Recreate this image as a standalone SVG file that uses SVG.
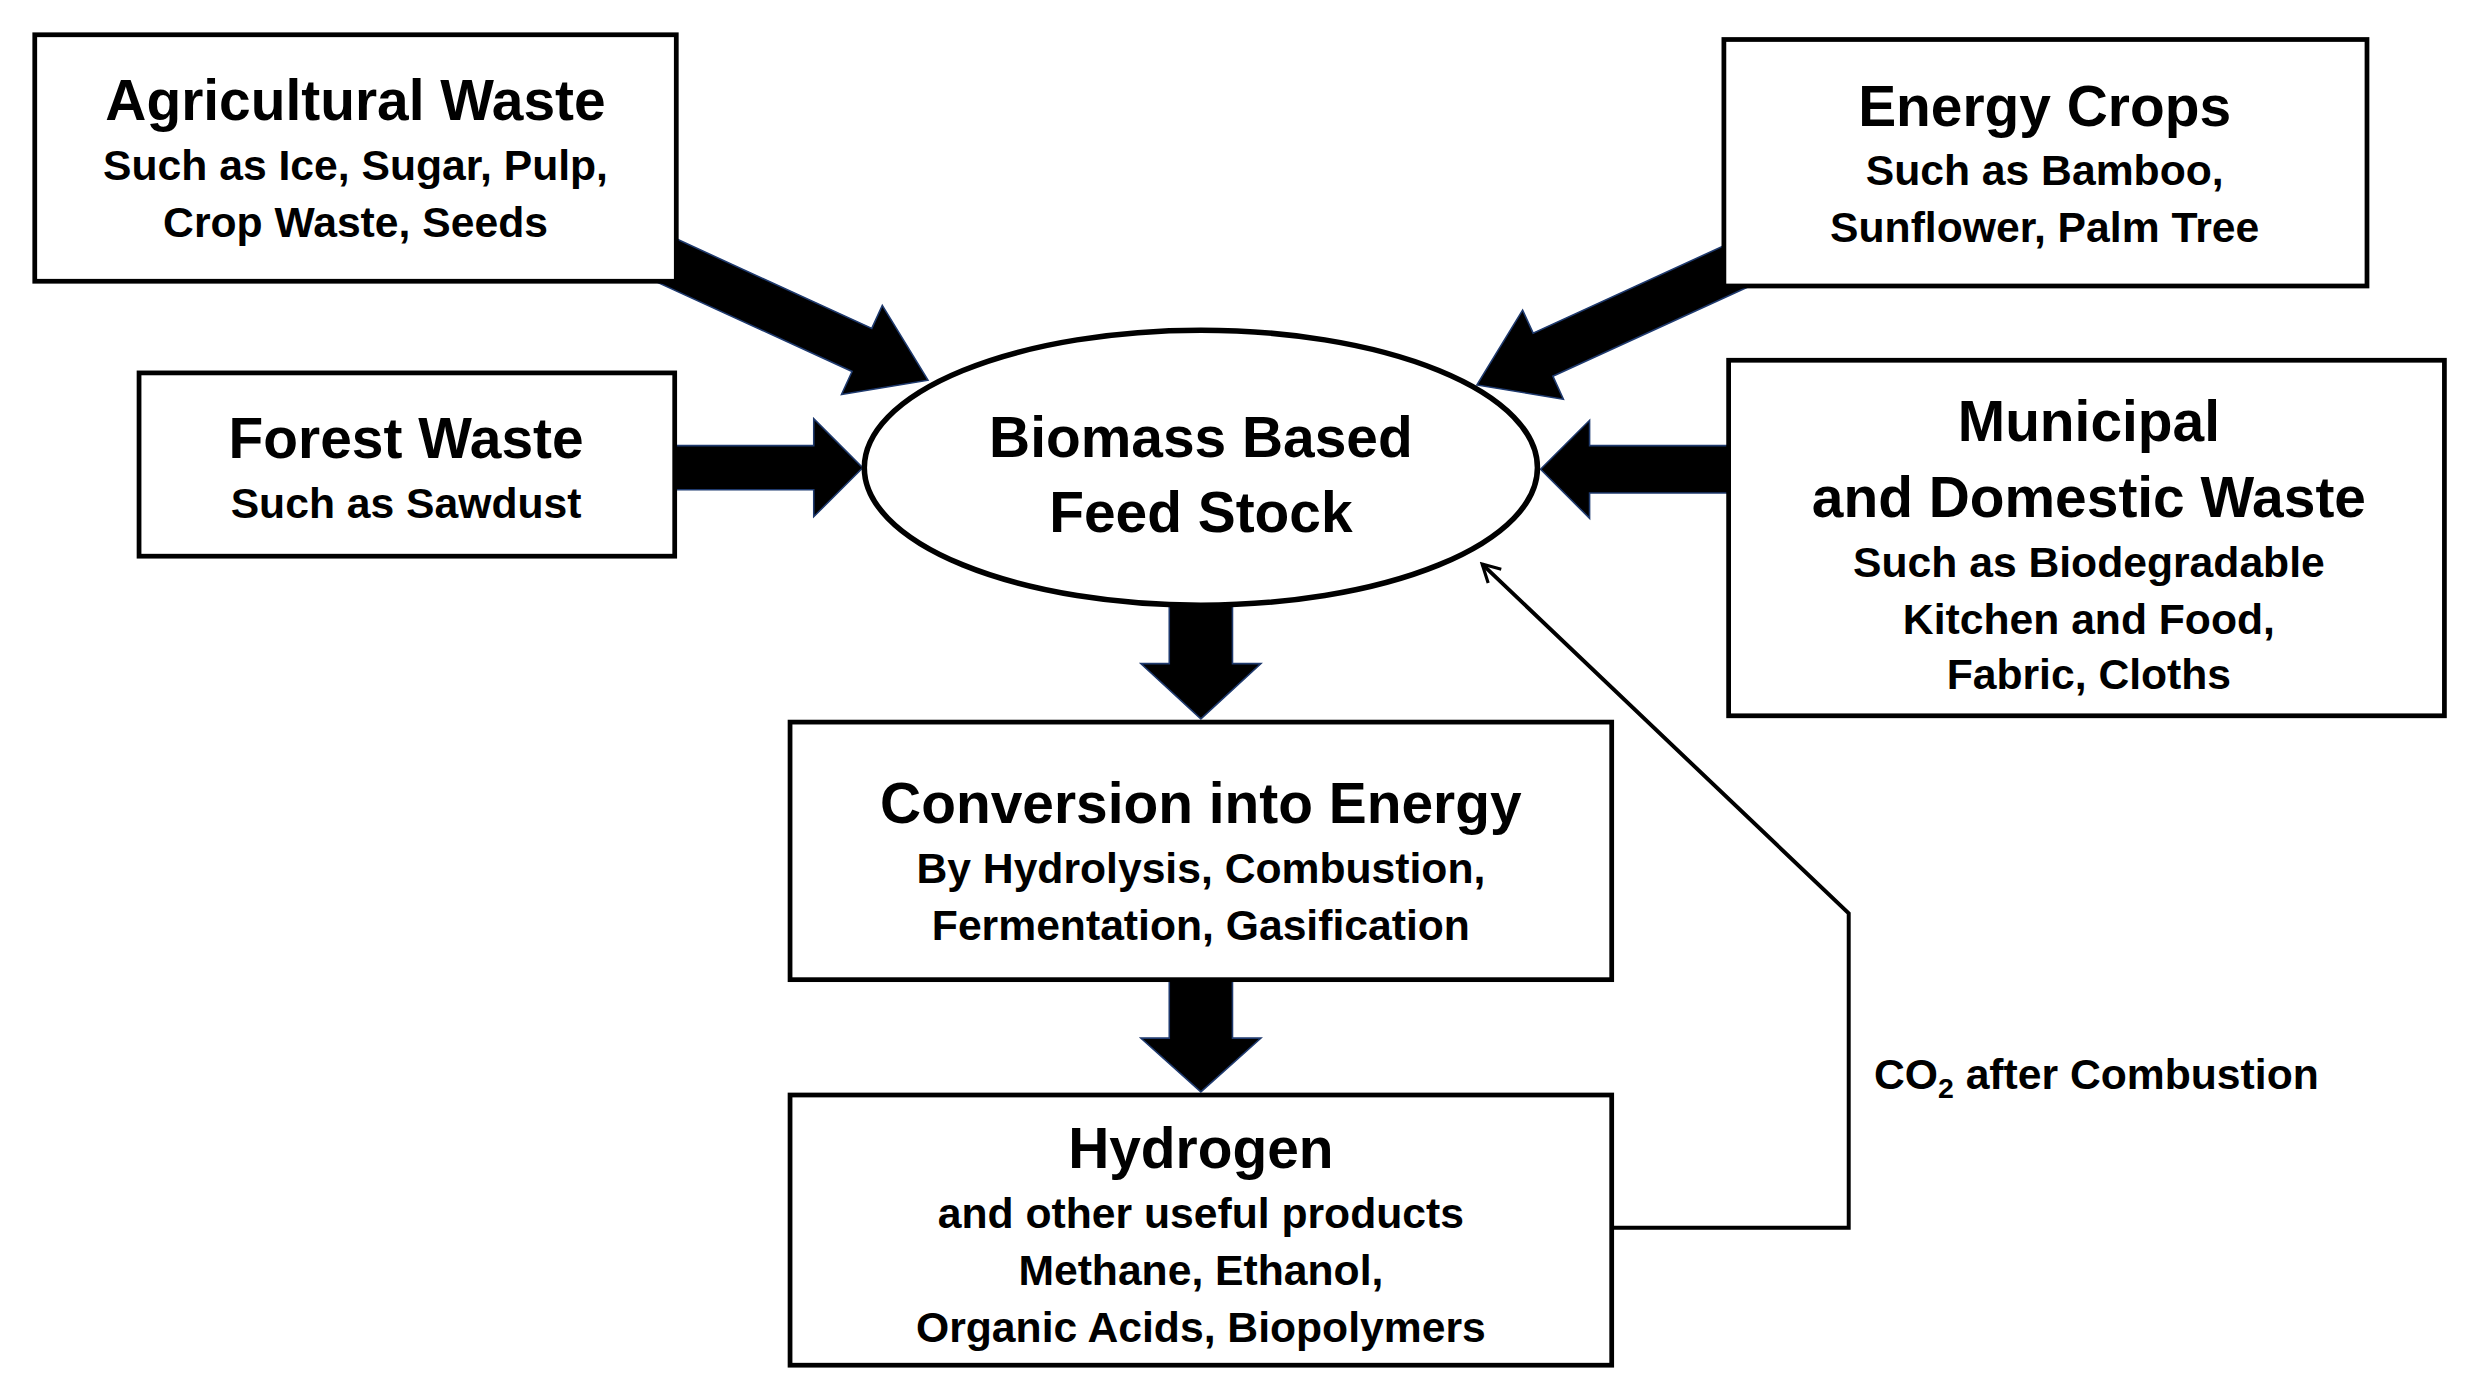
<svg xmlns="http://www.w3.org/2000/svg" width="2465" height="1399" viewBox="0 0 2465 1399">
<style>
.box{fill:#fff;stroke:#000;stroke-width:3}
text{font-family:"Liberation Sans",Arial,sans-serif;font-weight:bold;text-anchor:middle;fill:#000}
.t{font-size:36px}
.s{font-size:27px}
.a{fill:#000;stroke:#1f3a6e;stroke-width:1}
</style>
<defs>
<marker id="open" markerWidth="14" markerHeight="14" refX="12" refY="7" orient="auto" markerUnits="userSpaceOnUse">
<path d="M1,1 L12,7 L1,13" fill="none" stroke="#000" stroke-width="2"/>
</marker>
</defs>
<rect width="2465" height="1399" fill="#fff"/>
<g transform="scale(1.5801)">
<g id="connectors">
<g transform="translate(420,164) rotate(24.6)"><path class="a" d="M0,-15 L138,-15 L138,-31 L184,0 L138,31 L138,15 L0,15 Z"/></g>
<g transform="translate(1102,167) rotate(155.4)"><path class="a" d="M0,-15 L138,-15 L138,-31 L184,0 L138,31 L138,15 L0,15 Z"/></g>
<path class="a" d="M427,282 L515,282 L515,265 L546,296 L515,327 L515,310 L427,310 Z"/>
<path class="a" d="M1094,282 L1006,282 L1006,266 L975,297 L1006,328 L1006,312 L1094,312 Z"/>
<path class="a" d="M740,383 L780,383 L780,420 L798,420 L760,455 L722,420 L740,420 Z"/>
<path class="a" d="M740,620 L780,620 L780,657 L798,657 L760,691 L722,657 L740,657 Z"/>
<polyline points="1020,777 1170,777 1170,578 938,357" fill="none" stroke="#000" stroke-width="2.5" marker-end="url(#open)"/>
<text x="1186" y="689" class="s" style="text-anchor:start">CO<tspan font-size="18" dy="6">2</tspan><tspan dy="-6"> after Combustion</tspan></text>
</g>
<g id="agri"><rect class="box" x="22" y="22" width="406" height="156"/>
<text x="225" y="76" class="t">Agricultural Waste</text><text x="225" y="114" class="s">Such as Ice, Sugar, Pulp,</text><text x="225" y="150" class="s">Crop Waste, Seeds</text></g>
<g id="energy"><rect class="box" x="1091" y="25" width="407" height="156"/>
<text x="1294" y="80" class="t">Energy Crops</text><text x="1294" y="117" class="s">Such as Bamboo,</text><text x="1294" y="153" class="s">Sunflower, Palm Tree</text></g>
<g id="forest"><rect class="box" x="88" y="236" width="339" height="116"/>
<text x="257" y="290" class="t">Forest Waste</text><text x="257" y="328" class="s">Such as Sawdust</text></g>
<g id="municipal"><rect class="box" x="1094" y="228" width="453" height="225"/>
<text x="1322" y="279" class="t">Municipal</text><text x="1322" y="327" class="t">and Domestic Waste</text><text x="1322" y="365" class="s">Such as Biodegradable</text><text x="1322" y="401" class="s">Kitchen and Food,</text><text x="1322" y="436" class="s">Fabric, Cloths</text></g>
<g id="biomass"><ellipse cx="760" cy="296" rx="213" ry="87" fill="#fff" stroke="#000" stroke-width="3.5"/>
<text x="760" y="289" class="t">Biomass Based</text><text x="760" y="337" class="t">Feed Stock</text></g>
<g id="conversion"><rect class="box" x="500" y="457" width="520" height="163"/>
<text x="760" y="521" class="t">Conversion into Energy</text><text x="760" y="559" class="s">By Hydrolysis, Combustion,</text><text x="760" y="595" class="s">Fermentation, Gasification</text></g>
<g id="hydrogen"><rect class="box" x="500" y="693" width="520" height="171"/>
<text x="760" y="739" class="t">Hydrogen</text><text x="760" y="777" class="s">and other useful products</text><text x="760" y="813" class="s">Methane, Ethanol,</text><text x="760" y="849" class="s">Organic Acids, Biopolymers</text></g>
</g>
</svg>
